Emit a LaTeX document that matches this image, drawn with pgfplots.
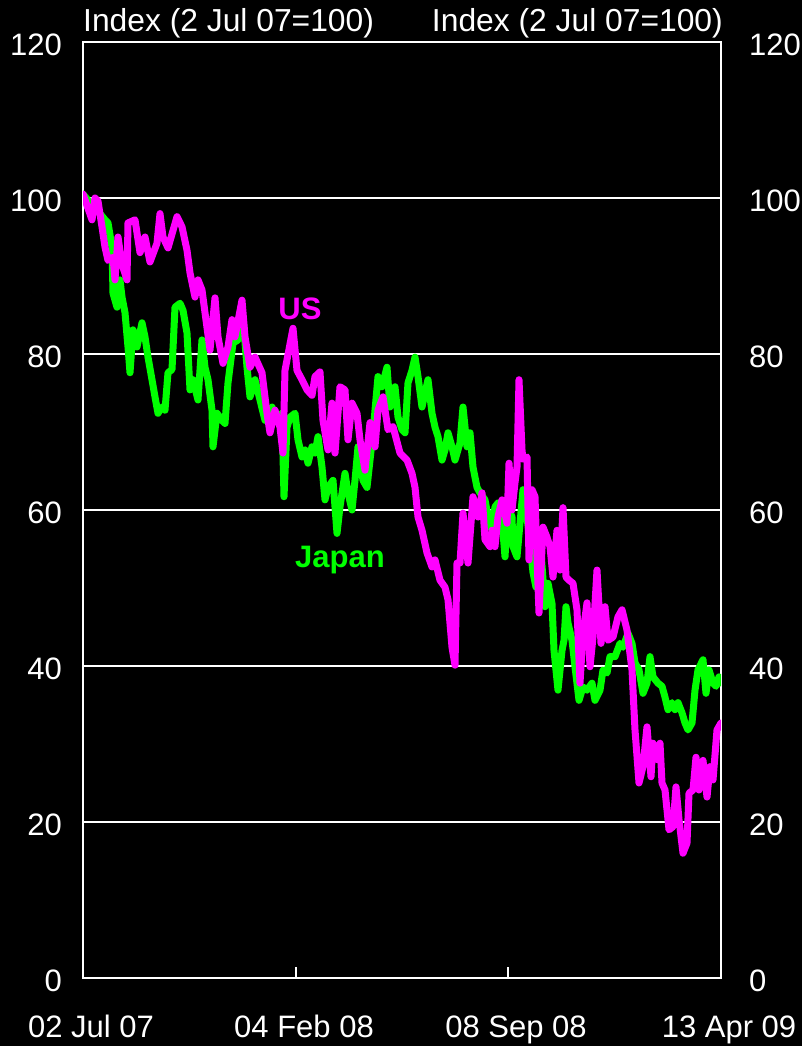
\documentclass[border=0pt]{standalone}
\usepackage{pgfplots}
\pgfplotsset{compat=1.18}
\usepackage{fontspec}
\setmainfont{Liberation Sans}
\definecolor{usmag}{RGB}{255,0,255}
\definecolor{jpgreen}{RGB}{0,255,0}
\begin{document}
\fontsize{31}{37}\selectfont
\begin{tikzpicture}[x=1pt,y=1pt]
\path[use as bounding box] (0,0) rectangle (802,1046);
\fill[black] (0,0) rectangle (802,1046);
\begin{axis}[
  at={(83pt,68pt)}, anchor=south west,
  scale only axis, width=638pt, height=936pt,
  xmin=0, xmax=638, ymin=0, ymax=120,
  axis line style={white, line width=2pt},
  xtick={0,213,425,638},
  xticklabels={02 Jul 07, 04 Feb 08, 08 Sep 08, 13 Apr 09},
  xtick pos=left, tick align=inside, major tick length=11pt,
  xtick style={white, line width=1.5pt},
  ytick={0,20,40,60,80,100,120},
  ytick style={draw=none},
  ymajorgrids, grid style={white, line width=2pt},
  /pgf/number format/assume math mode=true,
  every tick label/.append style={font=\fontsize{31}{37}\selectfont, text=white},
  xticklabel style={anchor=base, inner sep=0pt, yshift=-59pt, xshift=8pt},
  yticklabel style={anchor=east, inner sep=0pt, xshift=-21pt, yshift=-3pt},
  clip mode=individual,
]
\addplot[jpgreen, line width=7pt, line join=round, line cap=round] coordinates {
(0,100.5) (7,99.4) (17,98) (22,97.2) (25,96.8) (29,93.7) (30,87.8) (34,86) (37,89.5) (39,87.3)
(42,85.3) (45,80.9) (47,77.6) (50,83.1) (54,80.9) (59,84) (62,82.2) (65,79.6) (69,76.7) (72,74.5)
(75,72.4) (79,73.2) (82,72.8) (85,77.6) (89,78) (92,86) (97,86.5) (100,85.6) (104,82.7) (107,75.4)
(110,76.7) (115,74.1) (119,81.8) (122,78.3) (125,76.7) (129,72.8) (130,68.1) (134,72.4) (139,71.5) (142,71.1)
(145,76.3) (150,81.4) (155,81.8) (160,84.7) (164,78.3) (167,74.5) (172,76.7) (177,74.1) (182,71.5) (189,73.2)
(194,71.5) (199,72.4) (201,61.7) (204,70.6) (207,71.9) (212,72.4) (215,69) (219,66.8) (222,67.7) (225,66)
(229,68.1) (232,67.3) (235,69.4) (239,65.5) (242,61.3) (245,62.9) (250,63.8) (254,57) (257,60.4) (262,64.7)
(265,62.2) (269,60) (272,63.8) (275,68.1) (280,63.8) (284,62.9) (287,66.4) (290,69.9) (295,77.1) (299,75.8)
(304,78.3) (307,73.2) (312,75.8) (315,71.9) (319,70.3) (322,69.9) (325,76.3) (329,77.9) (332,79.6) (335,77.1)
(339,73.2) (342,75) (345,76.7) (349,72.4) (352,70.6) (355,69.4) (359,66.4) (362,67.7) (365,69.9) (369,68.1)
(372,66.4) (377,68.6) (380,73.2) (384,68.1) (387,69.9) (390,65.5) (394,62.9) (397,62.2) (402,61.3) (407,57.8)
(409,57.8) (412,60.4) (415,60.9) (419,58.7) (422,54) (425,60.4) (429,59.1) (430,55.3) (434,54) (437,58.3)
(440,62.6) (445,58) (450,52) (453,50.1) (457,56.4) (462,47.6) (465,50.6) (469,48) (471,42) (475,36.9)
(479,42) (481,43.3) (483,47.6) (485,45.5) (489,43.3) (492,39.9) (496,35.6) (500,37.3) (504,36.9) (509,37.8)
(512,35.6) (517,36.9) (520,39.5) (524,39.1) (527,41.2) (532,41.2) (537,42.9) (540,42.4) (545,44.2) (549,42.9)
(552,40.4) (556,39.5) (560,36.5) (564,37.8) (567,41.2) (570,38.6) (575,37.8) (579,37.4) (582,36) (585,34.4)
(589,35.3) (592,34.4) (595,35.3) (599,34) (602,32.7) (605,31.8) (609,32.7) (612,36.9) (615,39.5) (620,40.8)
(623,36.5) (626,39.5) (630,37.8) (633,37.4) (636,38.6) (638,37.8)
};
\addplot[usmag, line width=7pt, line join=round, line cap=round] coordinates {
(0,100.5) (9,97.2) (12,100) (15,99.6) (19,96.3) (22,93.7) (25,92) (30,92.4) (32,89.5) (35,95)
(39,91.5) (44,89.5) (45,96.8) (52,97.2) (57,93) (62,95) (67,91.8) (74,94.2) (77,98) (80,95)
(85,93.6) (94,97.6) (99,96.3) (104,93.3) (107,90.4) (112,87.3) (115,89.5) (119,88.2) (122,85.3) (127,80.5)
(132,87.2) (135,82.2) (140,78.8) (145,80.9) (149,84.4) (152,82.2) (159,86.9) (162,82.2) (167,78.3) (172,79.6)
(179,77.6) (184,72.4) (187,69.9) (192,72.8) (197,70.6) (200,67.3) (202,77.9) (210,83.3) (214,77.9) (219,76.7)
(224,75.4) (229,74.7) (232,77.1) (237,77.7) (240,71.5) (245,67.7) (249,73.7) (252,67.3) (257,75.8) (262,75.4)
(265,69) (269,73.7) (274,72.4) (277,69) (282,65.1) (287,71.2) (292,68.1) (295,72.8) (300,74.5) (305,70.3)
(310,70.7) (317,67.3) (324,66.4) (329,64.7) (332,62.9) (335,59.1) (339,57.4) (344,54.5) (349,52.7) (352,53.6)
(357,51) (362,50.1) (365,48.5) (369,42.4) (372,40.1) (374,53.2) (377,53.2) (380,59.6) (385,53.2) (390,61.7)
(395,59.1) (399,62.2) (402,56.2) (407,55.3) (409,57.4) (412,55.3) (415,59.1) (419,61.3) (424,58.3) (426,66)
(429,60) (432,63.5) (434,65.5) (436,76.7) (439,67.7) (440,66.5) (444,66.8) (446,53.6) (449,62.6) (452,61.7)
(454,54) (456,46.8) (460,57.8) (464,56.5) (467,55.3) (470,51.4) (474,57.4) (477,52.3) (480,60.3) (483,51.4)
(486,51) (490,50.6) (494,47.2) (497,37.8) (500,44.2) (504,48.1) (507,39.9) (510,43.7) (514,52.3) (518,42.9)
(522,47.6) (525,43.3) (530,43.7) (535,46.3) (539,47.2) (544,44.6) (549,39.5) (552,31.8) (556,25) (560,27.1)
(564,32.2) (568,25.8) (570,30.1) (574,28) (577,30.1) (579,25) (582,24.1) (586,19) (590,19.4) (593,24.5)
(596,20.3) (600,16) (604,17.3) (606,23.7) (610,24.1) (613,28.3) (616,24.1) (620,27.9) (624,23.2) (627,27.1)
(630,25.4) (634,31.8) (638,32.7)
};
\node[text=usmag, font=\fontsize{31}{37}\selectfont\bfseries, inner sep=0pt] at (axis cs:217,85.8) {US};
\node[text=jpgreen, font=\fontsize{31}{37}\selectfont\bfseries, inner sep=0pt] at (axis cs:257,53.6) {Japan};
\node[text=white, anchor=base west, inner sep=0pt, font=\fontsize{31.8}{37}\selectfont] at ([yshift=10pt]rel axis cs:0,1) {Index (2 Jul 07=100)};
\node[text=white, anchor=base east, inner sep=0pt, font=\fontsize{31.8}{37}\selectfont] at ([yshift=10pt,xshift=2pt]rel axis cs:1,1) {Index (2 Jul 07=100)};
\end{axis}
\begin{axis}[
  at={(83pt,68pt)}, anchor=south west,
  scale only axis, width=638pt, height=936pt,
  xmin=0, xmax=638, ymin=0, ymax=120,
  axis line style={draw=none},
  xtick=\empty,
  ytick={0,20,40,60,80,100,120},
  ytick style={draw=none},
  yticklabel pos=right,
  /pgf/number format/assume math mode=true,
  every tick label/.append style={font=\fontsize{31}{37}\selectfont, text=white},
  yticklabel style={anchor=west, inner sep=0pt, xshift=28pt, yshift=-3pt},
]
\end{axis}
\end{tikzpicture}
\end{document}
